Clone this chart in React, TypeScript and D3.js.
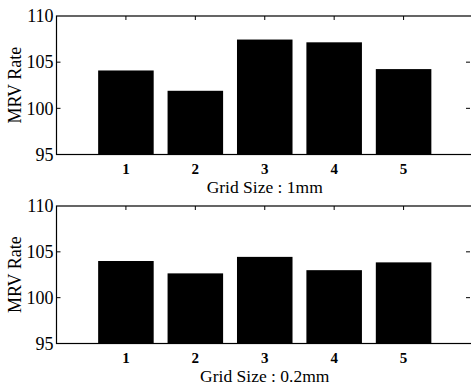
import React, { useRef, useEffect } from 'react';
import * as d3 from 'd3';

const categories = [1, 2, 3, 4, 5];
const rates1mm = [104.1, 101.9, 107.45, 107.15, 104.25];
const rates02mm = [104.0, 102.65, 104.45, 103.0, 103.85];
const yTicks = [95, 100, 105, 110];

const W = 471;
const H = 388;

const App = () => {
  const svgRef = useRef<SVGSVGElement>(null);

  useEffect(() => {
    const svg = d3.select(svgRef.current);
    svg.selectAll('*').remove();

    const font = '"Liberation Serif", "Times New Roman", serif';

    const panels = [
      { values: rates1mm, top: 16, bottom: 154.5, label: 'Grid Size : 1mm' },
      { values: rates02mm, top: 206, bottom: 343.5, label: 'Grid Size : 0.2mm' },
    ];

    const x = d3.scaleLinear().domain([0, 6]).range([56.5, 473]);
    const step = x(1) - x(0);
    const barW = step * 0.8;

    panels.forEach(p => {
      const y = d3.scaleLinear().domain([95, 110]).range([p.bottom, p.top]);
      const g = svg.append('g');

      // bars
      g.selectAll('rect.bar')
        .data(p.values)
        .enter().append('rect')
        .attr('class', 'bar')
        .attr('x', (d, i) => x(categories[i]) - barW / 2)
        .attr('y', d => y(d))
        .attr('width', barW)
        .attr('height', d => y(95) - y(d))
        .attr('fill', '#000');

      // box
      g.append('rect')
        .attr('x', x(0))
        .attr('y', y(110))
        .attr('width', x(6) - x(0))
        .attr('height', y(95) - y(110))
        .attr('fill', 'none')
        .attr('stroke', '#000')
        .attr('stroke-width', 1.2);

      // ticks pointing inward
      const tl = 4;
      g.selectAll('line.ytl')
        .data(yTicks.slice(1, 3))
        .enter().append('line')
        .attr('x1', x(0)).attr('x2', x(0) + tl)
        .attr('y1', d => y(d)).attr('y2', d => y(d))
        .attr('stroke', '#000');
      g.selectAll('line.ytr')
        .data(yTicks.slice(1, 3))
        .enter().append('line')
        .attr('x1', x(6) - 3).attr('x2', x(6) - 3 - tl)
        .attr('y1', d => y(d)).attr('y2', d => y(d))
        .attr('stroke', '#000');
      g.selectAll('line.xtt')
        .data(categories)
        .enter().append('line')
        .attr('x1', d => x(d)).attr('x2', d => x(d))
        .attr('y1', y(110)).attr('y2', y(110) + tl)
        .attr('stroke', '#000');

      // y tick labels
      g.selectAll('text.yl')
        .data(yTicks)
        .enter().append('text')
        .attr('x', x(0) - 3)
        .attr('y', d => y(d))
        .attr('dy', '0.35em')
        .attr('text-anchor', 'end')
        .attr('font-family', font)
        .attr('font-size', 18)
        .text(d => d);

      // x tick labels
      g.selectAll('text.xl')
        .data(categories)
        .enter().append('text')
        .attr('x', d => x(d))
        .attr('y', y(95) + 19)
        .attr('text-anchor', 'middle')
        .attr('font-family', font)
        .attr('font-size', 15)
        .attr('font-weight', 'bold')
        .text(d => d);

      // x label
      g.append('text')
        .attr('x', x(3))
        .attr('y', y(95) + 38)
        .attr('text-anchor', 'middle')
        .attr('font-family', font)
        .attr('font-size', 17.5)
        .text(p.label);

      // y label
      g.append('text')
        .attr('transform', `translate(21, ${(y(95) + y(110)) / 2}) rotate(-90)`)
        .attr('text-anchor', 'middle')
        .attr('font-family', font)
        .attr('font-size', 18)
        .text('MRV Rate');
    });
  }, []);

  return (
    <svg
      ref={svgRef}
      width={W}
      height={H}
      style={{ position: 'absolute', left: 0, top: 0, background: '#fff' }}
    />
  );
};

export default App;
